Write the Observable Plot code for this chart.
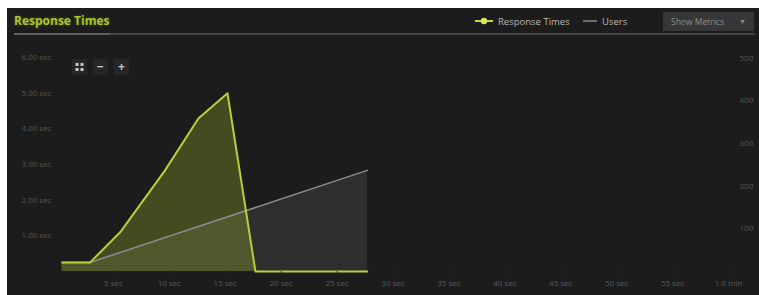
<!DOCTYPE html>
<html>
<head>
<meta charset="utf-8">
<script src="https://cdn.jsdelivr.net/npm/d3@7"></script>
<script src="https://cdn.jsdelivr.net/npm/@observablehq/plot@0.6"></script>
<style>
  html, body { margin: 0; padding: 0; background: #ffffff; width: 759px; height: 295px; overflow: hidden; font-family: "Open Sans", sans-serif; }
  #panel { position: absolute; left: 7px; top: 8px; width: 752px; height: 287px; background: #1c1c1c; }
  #chart { position: absolute; left: 0; top: 0; }
  #title { position: absolute; left: 14px; top: 12px; font-size: 12px; font-weight: bold; color: #a9c52c; text-shadow: 0 0 3px rgba(160,200,40,0.35); }
  #hline { position: absolute; left: 14px; top: 33px; width: 741px; height: 2px; background: #454545; }
  #hline2 { position: absolute; left: 14px; top: 33px; width: 96px; height: 2px; background: #5e5e5e; }
  .leg { position: absolute; top: 15px; font-size: 9.5px; color: #b8b8b8; }
  #btn { position: absolute; left: 663px; top: 12px; width: 91px; height: 19px; background: #373737; color: #8c8c8c; font-size: 8.5px; line-height: 19px; padding-left: 8px; box-sizing: border-box; }
  #btn span { position: absolute; right: 8px; top: 0; font-size: 7px; }
  .zb { position: absolute; top: 59px; width: 15px; height: 16px; background: #262626; color: #c8c8c8; font-size: 12px; line-height: 15px; text-align: center; font-weight: bold; }
</style>
</head>
<body>
<div id="panel"></div>
<div id="chart"></div>
<div id="title">Response Times</div>
<div id="hline"></div><div id="hline2"></div>
<svg style="position:absolute;left:474px;top:15px" width="20" height="12">
  <line x1="1" y1="6" x2="19" y2="6" stroke="#c4d63c" stroke-width="2"/>
  <circle cx="10" cy="6" r="3.2" fill="#d8e65a"/>
</svg>
<div class="leg" style="left:498px">Response Times</div>
<svg style="position:absolute;left:582px;top:15px" width="16" height="12">
  <line x1="1" y1="6" x2="15" y2="6" stroke="#8a8a8a" stroke-width="1.5"/>
</svg>
<div class="leg" style="left:602px">Users</div>
<div id="btn">Show Metrics<span>▼</span></div>
<div class="zb" style="left:72px"><svg width="15" height="16"><rect x="3.5" y="4" width="3" height="3" fill="#c8c8c8"/><rect x="8.5" y="4" width="3" height="3" fill="#c8c8c8"/><rect x="3.5" y="9" width="3" height="3" fill="#c8c8c8"/><rect x="8.5" y="9" width="3" height="3" fill="#c8c8c8"/></svg></div>
<div class="zb" style="left:93px">−</div>
<div class="zb" style="left:114px">+</div>
<script>
// ---- data ----
const respTimes   = [0.4, 2.9, 5.6, 9.6, 12.6, 15.2, 17.7, 27.7];   // seconds into run
const respValues  = [0.25, 0.25, 1.1, 2.83, 4.29, 5.0, 0, 0];       // response time, sec
const userTimes   = [0.4, 2.9, 27.7];
const userValues  = [21, 21, 237];                                   // users
const leftTicks   = [1, 2, 3, 4, 5, 6];
const leftLabels  = ["1.00 sec", "2.00 sec", "3.00 sec", "4.00 sec", "5.00 sec", "6.00 sec"];
const rightTicks  = [100, 200, 300, 400, 500];
const rightLabels = ["100", "200", "300", "400", "500"];
const xTicks      = [5, 10, 15, 20, 25, 30, 35, 40, 45, 50, 55, 60];
const xLabels     = ["5 sec", "10 sec", "15 sec", "20 sec", "25 sec", "30 sec", "35 sec", "40 sec", "45 sec", "50 sec", "55 sec", "1.0 min"];

const yMax = 6.2, uMax = 518;
const k = yMax / uMax; // map users onto left scale
const resp = respTimes.map((t, i) => ({t, v: respValues[i]}));
const usr = userTimes.map((t, i) => ({t, v: userValues[i] * k}));
const xMap = new Map(xTicks.map((t, i) => [t, xLabels[i]]));
const lMap = new Map(leftTicks.map((t, i) => [t, leftLabels[i]]));
const rMap = new Map(rightTicks.map((t, i) => [t * k, rightLabels[i]]));

const chart = Plot.plot({
  width: 759, height: 295,
  marginTop: 50, marginBottom: 24, marginLeft: 57, marginRight: 31,
  x: {domain: [0, 60], label: null},
  y: {domain: [0, yMax], label: null},
  style: {background: "transparent", color: "#5a5a5a", fontFamily: "Open Sans", fontSize: "8px"},
  marks: [
    Plot.areaY(usr, {x: "t", y: "v", fill: "#ffffff", fillOpacity: 0.085}),
    Plot.areaY(resp, {x: "t", y: "v", fill: "#9aab2c", fillOpacity: 0.32}),
    Plot.lineY(usr, {x: "t", y: "v", stroke: "#8c8c8c", strokeWidth: 1.5}),
    Plot.lineY(resp, {x: "t", y: "v", stroke: "#bccd3a", strokeWidth: 2}),
    Plot.axisX({ticks: xTicks, tickFormat: d => xMap.get(d), tickSize: 3, tickPadding: 6, stroke: "#2c2c2c", fill: "#5a5a5a", label: null}),
    Plot.axisY({ticks: leftTicks, tickFormat: d => lMap.get(d), tickSize: 0, tickPadding: 6, fill: "#555", label: null}),
    Plot.axisY({anchor: "right", ticks: rightTicks.map(v => v * k), tickFormat: d => rMap.get(d), tickSize: 0, tickPadding: 11, fill: "#555", textAnchor: "start", label: null}),
    Plot.axisY({anchor: "right", ticks: [], tickSize: 0, line: true, stroke: "#2a2a2a", label: null})
  ]
});
document.getElementById("chart").appendChild(chart);
</script>
</body>
</html>
